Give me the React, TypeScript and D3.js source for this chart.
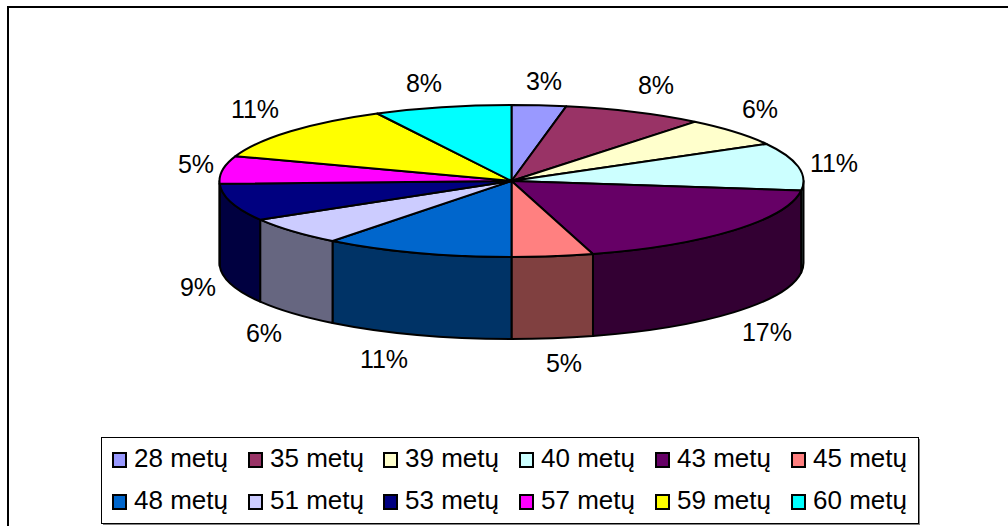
import React from 'react';
import * as d3 from 'd3';

const ages = ['28 metų', '35 metų', '39 metų', '40 metų', '43 metų', '45 metų', '48 metų', '51 metų', '53 metų', '57 metų', '59 metų', '60 metų'];
// slice shares as they are drawn in the picture
const shares = [3.0, 7.8, 6.1, 10.1, 18.5, 4.5, 10.5, 6.0, 7.9, 5.9, 12.1, 7.6];
const percentLabels = ['3%', '8%', '6%', '11%', '17%', '5%', '11%', '6%', '9%', '5%', '11%', '8%'];
const topColors = ['#9999ff', '#993366', '#ffffcc', '#ccffff', '#660066', '#ff8080', '#0066cc', '#ccccff', '#000080', '#ff00ff', '#ffff00', '#00ffff'];
const sideColors = ['#4d4d80', '#4d1a33', '#808066', '#668080', '#330033', '#804040', '#003366', '#666680', '#000040', '#800080', '#808000', '#008080'];
const labelX = [544, 656, 760, 834, 767, 564, 384, 264, 198, 196, 255, 424];
const labelY = [90, 94, 118, 172, 341, 372, 368, 342, 296, 173, 118, 92];

const W = 1008;
const H = 526;
const cx = 511.5;
const cy = 181;
const rx = 292;
const ry = 76;
const depth = 82;
const FONT = '"Liberation Sans", Arial, sans-serif';

const pt = (a: number, dy = 0) => [cx + rx * Math.sin(a), cy - ry * Math.cos(a) + dy];

const topPath = (a0: number, a1: number) => {
  const p0 = pt(a0);
  const p1 = pt(a1);
  const large = a1 - a0 > Math.PI ? 1 : 0;
  return `M${cx},${cy}L${p0[0]},${p0[1]}A${rx},${ry} 0 ${large} 1 ${p1[0]},${p1[1]}Z`;
};

const sidePath = (a0: number, a1: number) => {
  const p0 = pt(a0);
  const p1 = pt(a1);
  const q0 = pt(a0, depth);
  const q1 = pt(a1, depth);
  return `M${p0[0]},${p0[1]}A${rx},${ry} 0 0 1 ${p1[0]},${p1[1]}L${q1[0]},${q1[1]}A${rx},${ry} 0 0 0 ${q0[0]},${q0[1]}Z`;
};

const legendCols = [112, 248, 383, 519, 655, 791];
const legendRows = [467, 509];

export default function App() {
  const arcs = d3.pie<number>().sort(null)(shares);
  return (
    <svg width={W} height={H} style={{ position: 'absolute', left: 0, top: 0 }} fontFamily={FONT}>
      <rect x={8} y={7} width={W} height={H} fill="#fff" stroke="#000" strokeWidth={2} />
      <g stroke="#000" strokeWidth={2} strokeLinejoin="round">
        {arcs.map((d, i) => {
          const a0 = Math.max(d.startAngle, Math.PI / 2);
          const a1 = Math.min(d.endAngle, (3 * Math.PI) / 2);
          if (a1 <= a0) return null;
          return <path key={i} d={sidePath(a0, a1)} fill={sideColors[i]} />;
        })}
        {arcs.map((d, i) => (
          <path key={i} d={topPath(d.startAngle, d.endAngle)} fill={topColors[i]} />
        ))}
      </g>
      <g fontSize={25} fill="#000" textAnchor="middle">
        {percentLabels.map((t, i) => (
          <text key={i} x={labelX[i]} y={labelY[i]}>{t}</text>
        ))}
      </g>
      <rect x={103} y={439} width={817} height={86} fill="#808080" />
      <rect x={101.5} y={437.5} width={817} height={86} fill="#fff" stroke="#000" strokeWidth={1} />
      {ages.map((t, i) => {
        const x = legendCols[i % 6];
        const y = legendRows[Math.floor(i / 6)];
        return (
          <g key={t}>
            <rect x={x + 1} y={y - 14} width={13} height={14} fill={topColors[i]} stroke="#000" strokeWidth={2} />
            <text x={x + 22} y={y} fontSize={26} fill="#000">{t}</text>
          </g>
        );
      })}
    </svg>
  );
}
